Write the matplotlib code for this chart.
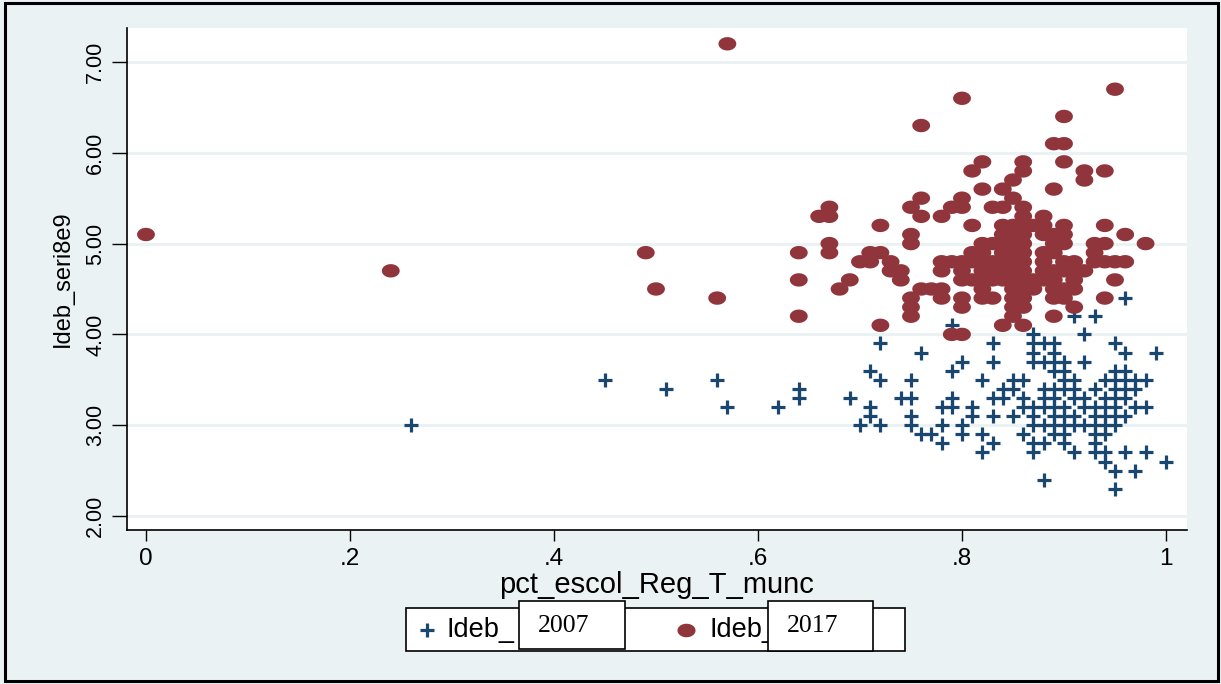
import numpy as np
import matplotlib
matplotlib.use("Agg")
import matplotlib.pyplot as plt
from matplotlib.path import Path
from matplotlib.patches import Rectangle
from matplotlib.lines import Line2D

plt.rcParams["font.family"] = ["Liberation Sans", "DejaVu Sans"]

# IDEB 2007 (8th/9th grade) against share of regular-school enrolment
pct_2007 = [
    0.96,
    0.91, 0.93,
    0.79,
    0.87, 0.92,
    0.72, 0.83, 0.87, 0.88, 0.89, 0.95,
    0.76, 0.87, 0.89, 0.96, 0.99,
    0.80, 0.83, 0.87, 0.88, 0.89, 0.90, 0.92,
    0.71, 0.79, 0.89, 0.90, 0.95, 0.96,
    0.45, 0.56, 0.72, 0.75, 0.82, 0.85, 0.86, 0.90, 0.91, 0.94, 0.95, 0.96, 0.97, 0.98,
    0.51, 0.64, 0.84, 0.85, 0.88, 0.89, 0.90, 0.91, 0.93, 0.95, 0.96, 0.97,
    0.64, 0.69, 0.74, 0.75, 0.79, 0.83, 0.84, 0.86, 0.88, 0.89, 0.91, 0.92, 0.94, 0.95, 0.96,
    0.57, 0.62, 0.71, 0.78, 0.79, 0.81, 0.86, 0.87, 0.88, 0.89, 0.90, 0.92, 0.93, 0.94, 0.95, 0.97, 0.98,
    0.71, 0.75, 0.81, 0.83, 0.85, 0.87, 0.89, 0.90, 0.91, 0.93, 0.94, 0.95, 0.96,
    0.26, 0.70, 0.72, 0.75, 0.78, 0.80, 0.87, 0.88, 0.89, 0.90, 0.91, 0.92, 0.93, 0.94, 0.95,
    0.76, 0.77, 0.80, 0.82, 0.86, 0.89, 0.90, 0.93, 0.94,
    0.78, 0.83, 0.87, 0.88, 0.90, 0.93,
    0.82, 0.87, 0.91, 0.93, 0.94, 0.96, 0.98,
    0.94, 1.00,
    0.95, 0.97,
    0.88,
    0.95,
]
ideb_2007 = (
    [4.4] * 1 + [4.2] * 2 + [4.1] * 1 + [4.0] * 2 + [3.9] * 6 + [3.8] * 5
    + [3.7] * 7 + [3.6] * 6 + [3.5] * 14 + [3.4] * 12 + [3.3] * 15
    + [3.2] * 17 + [3.1] * 13 + [3.0] * 15 + [2.9] * 9 + [2.8] * 6
    + [2.7] * 7 + [2.6] * 2 + [2.5] * 2 + [2.4] * 1 + [2.3] * 1
)

# IDEB 2017
pct_2017 = [
    0.57,
    0.95,
    0.80,
    0.90,
    0.76,
    0.89, 0.90,
    0.82, 0.86, 0.90,
    0.81, 0.86, 0.92, 0.94,
    0.85, 0.92,
    0.82, 0.84, 0.89,
    0.76, 0.80, 0.85,
    0.67, 0.75, 0.79, 0.80, 0.83, 0.84, 0.86,
    0.66, 0.67, 0.76, 0.78, 0.86, 0.88,
    0.72, 0.81, 0.84, 0.85, 0.86, 0.87, 0.88, 0.90, 0.94,
    0.00, 0.75, 0.84, 0.85, 0.86, 0.88, 0.89, 0.90, 0.96,
    0.67, 0.75, 0.82, 0.83, 0.84, 0.85, 0.86, 0.89, 0.90, 0.93, 0.94, 0.98,
    0.49, 0.64, 0.67, 0.71, 0.72, 0.81, 0.82, 0.84, 0.85, 0.86, 0.88, 0.89, 0.93,
    0.70, 0.71, 0.73, 0.78, 0.79, 0.80, 0.81, 0.82, 0.83, 0.84, 0.85, 0.86, 0.88, 0.90, 0.91, 0.93, 0.94, 0.95, 0.96,
    0.24, 0.73, 0.74, 0.78, 0.80, 0.82, 0.83, 0.84, 0.85, 0.86, 0.88, 0.89, 0.90, 0.91, 0.92,
    0.64, 0.69, 0.74, 0.80, 0.81, 0.82, 0.83, 0.84, 0.85, 0.86, 0.87, 0.88, 0.89, 0.91, 0.95,
    0.50, 0.68, 0.76, 0.77, 0.78, 0.82, 0.85, 0.86, 0.87, 0.89, 0.90, 0.91,
    0.56, 0.75, 0.78, 0.80, 0.82, 0.83, 0.85, 0.86, 0.89, 0.90, 0.94,
    0.75, 0.80, 0.85, 0.86, 0.91,
    0.64, 0.75, 0.85, 0.89,
    0.72, 0.84, 0.86,
    0.79, 0.80,
]
ideb_2017 = (
    [7.2] * 1 + [6.7] * 1 + [6.6] * 1 + [6.4] * 1 + [6.3] * 1 + [6.1] * 2
    + [5.9] * 3 + [5.8] * 4 + [5.7] * 2 + [5.6] * 3 + [5.5] * 3
    + [5.4] * 7 + [5.3] * 6 + [5.2] * 9 + [5.1] * 9 + [5.0] * 12
    + [4.9] * 13 + [4.8] * 19 + [4.7] * 15 + [4.6] * 15 + [4.5] * 12
    + [4.4] * 11 + [4.3] * 5 + [4.2] * 4 + [4.1] * 3 + [4.0] * 2
)

x_ticks = [0, 0.2, 0.4, 0.6, 0.8, 1.0]
x_tick_labels = ["0", ".2", ".4", ".6", ".8", "1"]
y_ticks = [2, 3, 4, 5, 6, 7]
y_tick_labels = ["2.00", "3.00", "4.00", "5.00", "6.00", "7.00"]
legend_labels = ["Ideb_", "Ideb_"]
year_tags = ["2007", "2017"]

NAVY = "#1a476f"
MAROON = "#90353b"
BG = "#eaf2f3"

W, H = 1221, 684
fig = plt.figure(figsize=(W / 100, H / 100), dpi=100, facecolor=BG)


def fx(px):
    return px / W


def fy(py):
    return 1 - py / H


ax = fig.add_axes([fx(127), fy(530), fx(1187) - fx(127), fy(28) - fy(530)])
ax.set_facecolor("white")

# slightly wide oval dot
t = np.linspace(0, 2 * np.pi, 64)
oval = Path(np.column_stack([np.cos(t), 0.75 * np.sin(t)]), closed=True)

ax.scatter(pct_2007, ideb_2007, marker="+", s=100, linewidths=2.3,
           color=NAVY, zorder=3)
ax.scatter(pct_2017, ideb_2017, marker=oval, s=165, color=MAROON,
           edgecolors="none", zorder=3)

ax.set_xlim(-0.0186, 1.0206)
ax.set_ylim(1.846, 7.374)

ax.set_xticks(x_ticks)
ax.set_xticklabels(x_tick_labels, fontsize=17.5)
ax.set_yticks(y_ticks)
ax.set_yticklabels(y_tick_labels, fontsize=15.5, rotation=90, va="center")
ax.yaxis.grid(True, color=BG, linewidth=2.2, zorder=0)
ax.set_axisbelow(True)
ax.tick_params(axis="y", length=11, width=1, pad=4)
ax.tick_params(axis="x", length=8, width=1, pad=5)

for side in ("top", "right"):
    ax.spines[side].set_visible(False)
for side in ("left", "bottom"):
    ax.spines[side].set_linewidth(1.2)

ax.set_xlabel("pct_escol_Reg_T_munc", fontsize=21, labelpad=1)
ax.set_ylabel("Ideb_seri8e9", fontsize=17, labelpad=8)

# legend box
fig.patches.append(Rectangle((fx(406), fy(651)), fx(905) - fx(406), fy(608) - fy(651),
                             transform=fig.transFigure, facecolor="white",
                             edgecolor="black", linewidth=1.2, zorder=5))
fig.lines.append(Line2D([fx(427)], [fy(630)], transform=fig.transFigure,
                        marker="+", markersize=10, markeredgewidth=2.3,
                        color=NAVY, linestyle="none", zorder=6))
fig.lines.append(Line2D([fx(686)], [fy(630)], transform=fig.transFigure,
                        marker=oval, markersize=13, color=MAROON,
                        markeredgewidth=0, linestyle="none", zorder=6))
fig.text(fx(447), fy(630), legend_labels[0], fontsize=19.5, va="center", ha="left", zorder=6)
fig.text(fx(709), fy(630), legend_labels[1], fontsize=19.5, va="center", ha="left", zorder=6)

# year tags laid over the legend entries
for (x0, x1, y0, y1), year in zip([(519, 625, 601, 649), (768, 873, 601, 651)], year_tags):
    fig.patches.append(Rectangle((fx(x0), fy(y1)), fx(x1) - fx(x0), fy(y0) - fy(y1),
                                 transform=fig.transFigure, facecolor="white",
                                 edgecolor="black", linewidth=1.2, zorder=7))
    fig.text(fx(x0 + 19), fy(626), year, fontsize=18.5, va="center", ha="left",
             family=["Liberation Serif", "DejaVu Serif"], zorder=8)

# outer frame
fig.patches.append(Rectangle((fx(5), fy(681)), fx(1218) - fx(5), fy(3) - fy(681),
                             transform=fig.transFigure, facecolor="none",
                             edgecolor="black", linewidth=2.2, zorder=9))

fig.savefig("out.png", dpi=100, facecolor=BG)
